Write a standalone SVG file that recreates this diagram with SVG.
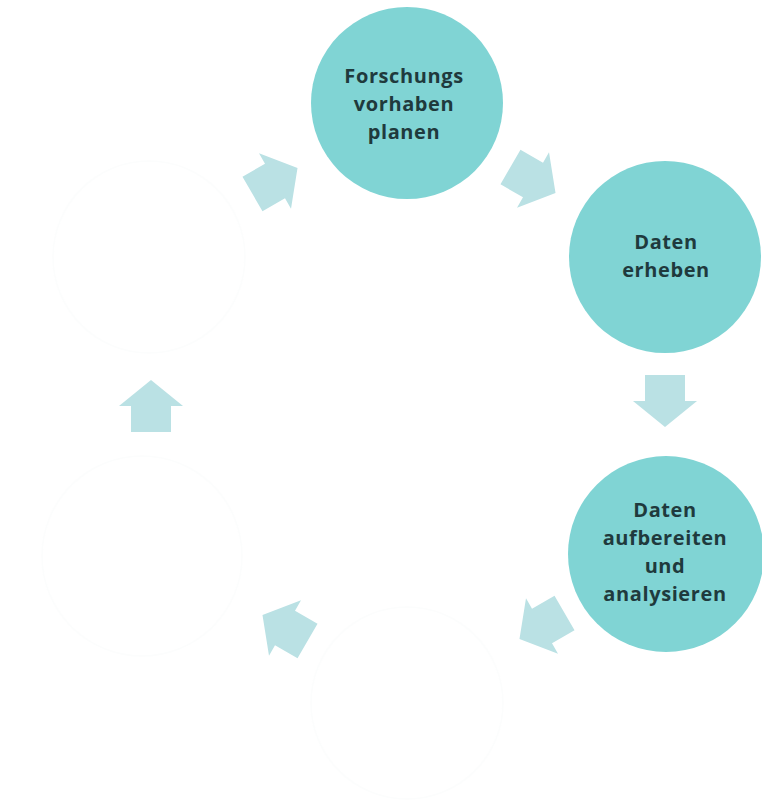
<svg xmlns="http://www.w3.org/2000/svg" width="762" height="803" viewBox="0 0 762 803">
  <style>
    .node { fill: #80d4d4; }
    .ghost { fill: #ffffff; stroke: #fcfdfd; stroke-width: 1.5; }
    .label { font-family: "Open Sans", Lato, "Liberation Sans", sans-serif; font-weight: bold; font-size: 20px; letter-spacing: 0.6px; fill: #1f3a3d; text-anchor: middle; }
    .arrow { fill: #bae1e4; }
  </style>
  <defs>
    <polygon id="blockArrow" points="-26,-20 0,-20 0,-32 26,0 0,32 0,20 -26,20"/>
  </defs>
  <rect width="762" height="803" fill="#ffffff"/>

  <g id="ghost-nodes">
    <g id="node-4"><circle class="ghost" cx="407" cy="703" r="96"/></g>
    <g id="node-5"><circle class="ghost" cx="142" cy="556" r="100"/></g>
    <g id="node-6"><circle class="ghost" cx="149" cy="257" r="96"/></g>
  </g>

  <g id="connectors">
    <use href="#blockArrow" class="arrow" transform="translate(275,181) rotate(-30)"/>
    <use href="#blockArrow" class="arrow" transform="translate(533,180) rotate(30)"/>
    <use href="#blockArrow" class="arrow" transform="translate(665,401) rotate(90)"/>
    <use href="#blockArrow" class="arrow" transform="translate(542,626) rotate(150)"/>
    <use href="#blockArrow" class="arrow" transform="translate(285,628) rotate(210)"/>
    <use href="#blockArrow" class="arrow" transform="translate(151,406) rotate(-90)"/>
  </g>

  <g id="node-1">
    <circle class="node" cx="407" cy="103" r="96"/>
    <text class="label" x="404" y="83">Forschungs<tspan x="404" dy="28">vorhaben</tspan><tspan x="404" dy="28">planen</tspan></text>
  </g>

  <g id="node-2">
    <circle class="node" cx="665" cy="257" r="96"/>
    <text class="label" x="666" y="249">Daten<tspan x="666" dy="28">erheben</tspan></text>
  </g>

  <g id="node-3">
    <circle class="node" cx="666" cy="554" r="98"/>
    <text class="label" x="665" y="517">Daten<tspan x="665" dy="28">aufbereiten</tspan><tspan x="665" dy="28">und</tspan><tspan x="665" dy="28">analysieren</tspan></text>
  </g>
</svg>
